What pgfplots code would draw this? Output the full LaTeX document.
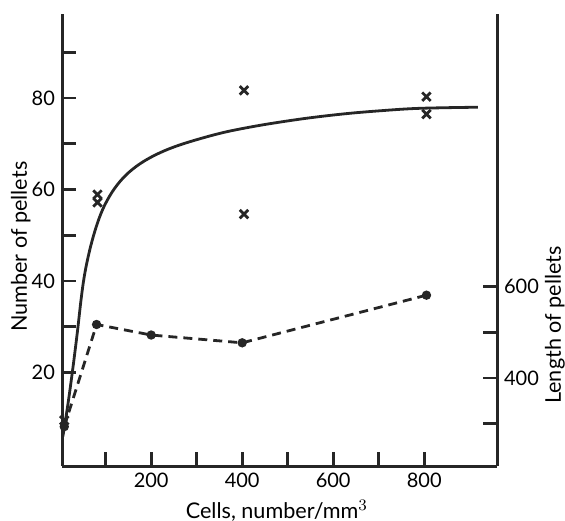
\documentclass[border=0pt]{standalone}
\usepackage{fontspec}
\setmainfont{Lato}
\usepackage{pgfplots}
\pgfplotsset{compat=1.18}

\begin{document}
\begin{tikzpicture}
\pgfplotsset{
  every axis/.append style={
    scale only axis, width=217.5pt, height=226pt,
    xmin=4, xmax=960,
    font=\fontsize{10.8}{12}\selectfont,
    tick label style={font=\fontsize{10}{12}\selectfont},
    /pgf/number format/assume math mode=true,
    axis line style={line width=1.5pt, black!85},
    major tick length=7pt,
    every tick/.style={line width=1.4pt, black!85},
  },
}
% left axis: number of pellets
\begin{axis}[
  ymin=-0.5, ymax=98.4,
  axis x line=bottom, axis y line=left,
  tick align=inside,
  xtick={100,200,...,800},
  xticklabels={,200,,400,,600,,800},
  ytick={20,30,...,90},
  yticklabels={20,,40,,60,,80,},
  x axis line style={-}, y axis line style={-},
  xlabel={Cells, number/mm$^3$},
  ylabel={Number of pellets},
  every axis x label/.style={at={(axis description cs:0.494,-0.099)}, anchor=center},
  every axis y label/.style={at={(axis description cs:-0.095,0.485)}, rotate=90, anchor=center},
]
% fitted curve
\addplot[line width=1.4pt, black!85, smooth, tension=0.6] coordinates {
  (6,6) (17,13) (28,21) (38,29) (46,36) (53,41) (62,45.5) (73,49.8)
  (86,53.8) (100,57) (120,60.3) (145,63.2) (175,65.6) (210,67.6)
  (250,69.3) (300,70.9) (360,72.5) (420,73.7) (480,74.7) (550,75.7)
  (629,76.6) (700,77.2) (775,77.7) (850,77.9) (918,78.0)
};
% observed numbers
\addplot[only marks, mark=x, mark size=3pt, line width=1.4pt, black!85] coordinates {
  (9,9.5) (82,58.9) (82,57.2) (404,81.7) (404,54.6) (805,80.3) (805,76.5)
};
\end{axis}
% right axis: length of pellets
\begin{axis}[
  ymin=208, ymax=1195,
  axis x line=none, axis y line=right,
  tick align=inside,
  y axis line style={-},
  ytick={300,400,500,600},
  yticklabels={,400,,600},
  ylabel={Length of pellets},
  every axis y label/.style={at={(axis description cs:1.133,0.312)}, rotate=90, anchor=center},
]
\addplot[line width=1.4pt, black!85, dash pattern=on 4.5pt off 3pt,
  mark=*, mark size=1.6pt, mark options={solid}] coordinates {
  (9,294) (80,517) (200,494) (400,477) (805,581)
};
\end{axis}
\pgfresetboundingbox
\path[use as bounding box] (-31pt,-27pt) rectangle (251.5pt,233pt);
\end{tikzpicture}
\end{document}
